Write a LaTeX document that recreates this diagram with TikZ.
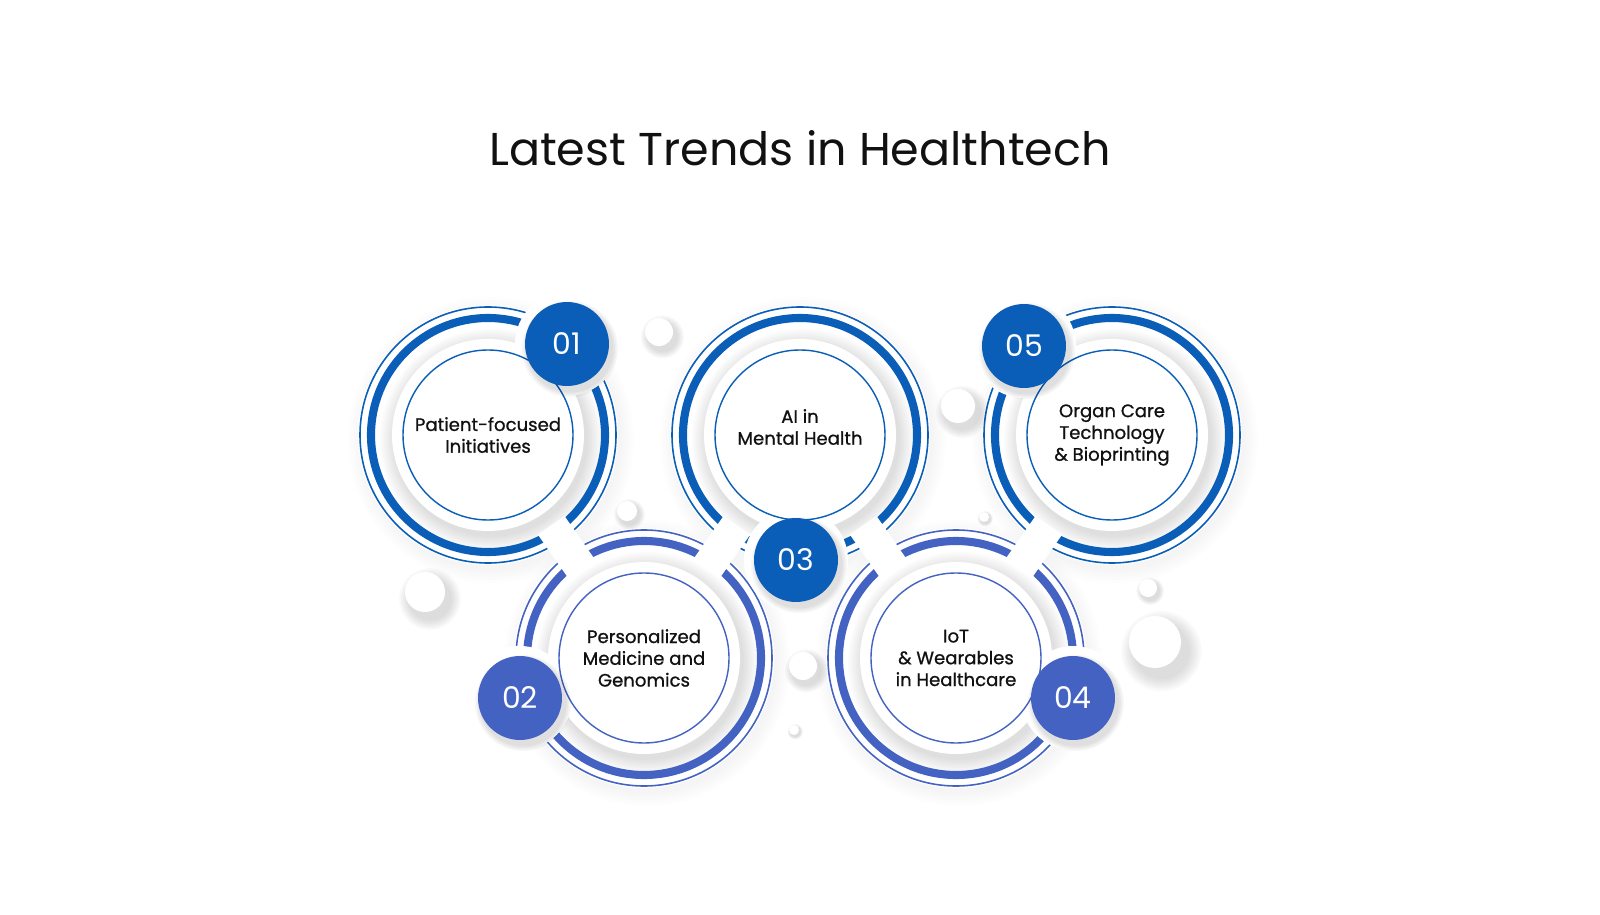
\documentclass[tikz,border=0pt]{standalone}
\usepackage{fontspec}
\setmainfont{Poppins}
\newfontfamily\labelfont[FakeBold=0.9]{Poppins}
\usepackage{xcolor}
\definecolor{topblue}{HTML}{0A5EB7}
\definecolor{lowblue}{HTML}{4462C2}
\definecolor{ink}{HTML}{111111}
\usetikzlibrary{calc}

\begin{document}
\begin{tikzpicture}[x=0.02cm, y=0.02cm,
	ringthin/.style={line width=0.9pt},
	ringthick/.style={line width=4.6pt},
	trendlabel/.style={font=\labelfont\fontsize{10.3}{12.4}\selectfont, text=ink, align=center},
	badgenum/.style={circle, inner sep=0pt, minimum size=47.8pt, text=white, font=\fontsize{17}{17}\selectfont}
	]

	\useasboundingbox (0,0) rectangle (1600,914);

	% ================= centres =================
	\coordinate (C1) at (488,479);
	\coordinate (C3) at (800,479);
	\coordinate (C5) at (1112,479);
	\coordinate (C2) at (644,256);
	\coordinate (C4) at (956,256);

	\node[ink, anchor=base, font=\fontsize{26.2}{30}\selectfont] (title) at (800,748) {Latest Trends in Healthtech};

	% ================= ring groups: soft shadow =================
	\foreach \c in {C1,C2,C3,C4,C5}{
		\foreach \r in {131,134,...,143}{
			\fill[black, opacity=0.008] ($(\c)+(3,-5)$) circle[radius=\r];
		}
	}
	\foreach \c in {C1,C2,C3,C4,C5}{
		\fill[white] (\c) circle[radius=130];
	}

	% plate shadow
	\foreach \c in {C1,C2,C3,C4,C5}{
		\foreach \r in {97,99,...,111}{
			\fill[black, opacity=0.015] ($(\c)+(3,-5)$) circle[radius=\r];
		}
	}

	% ================= rings =================
	\foreach \c/\col in {C1/topblue, C3/topblue, C5/topblue, C2/lowblue, C4/lowblue}{
		\draw[ringthin, \col] (\c) circle[radius=128];
		\draw[ringthick, \col] (\c) circle[radius=117];
	}

	% gaps between neighbours
	\foreach \a/\b in {C1/C2, C2/C3, C3/C4, C4/C5}{
		\draw[white, line width=18.5pt] ($(\a)!0.405!(\b)$) -- ($(\a)!0.595!(\b)$);
	}

	% halos round the badges
	\foreach \x/\y in {567/570, 520/216, 796/354, 1073/216, 1024/568}{
		\fill[white] (\x,\y) circle[radius=52];
	}

	% ================= plates and labels =================
	\foreach \c/\col in {C1/topblue, C3/topblue, C5/topblue, C2/lowblue, C4/lowblue}{
		\fill[white] (\c) circle[radius=96];
		\draw[\col, line width=0.8pt] (\c) circle[radius=85];
	}

	\node[trendlabel] (t1) at (C1) {Patient-focused\\Initiatives};
	\node[trendlabel] (t2) at (C2) {Personalized\\Medicine and\\Genomics};
	\node[trendlabel] (t3) at ($(C3)+(0,8)$) {AI in\\Mental Health};
	\node[trendlabel] (t4) at (C4) {IoT\\\& Wearables\\in Healthcare};
	\node[trendlabel] (t5) at (C5) {Organ Care\\Technology\\\& Bioprinting};

	% ================= small white balls =================
	\foreach \x/\y/\r in {
		659/582/14,
		958/508/17,
		627/403/10,
		425/322/20,
		803/248/14,
		794/184/5,
		1155/272/26,
		1148/326/9,
		984/397/5
	}{
		\foreach \k in {1,...,6}{
			\fill[black, opacity=0.025] (\x+0.25*\r,\y-0.35*\r) circle[radius=\r+0.09*\k*\r];
		}
		\fill[white] (\x,\y) circle[radius=\r];
	}

	% ================= badges =================
	\foreach \n/\x/\y/\col in {01/567/570/topblue, 02/520/216/lowblue, 03/796/354/topblue, 04/1073/216/lowblue, 05/1024/568/topblue}{
		\foreach \k in {1,...,4}{
			\fill[black, opacity=0.03] (\x+3,\y-5) circle[radius=42+1.5*\k];
		}
		\node[badgenum, fill=\col] (b\n) at (\x,\y) {\n};
	}

\end{tikzpicture}
\end{document}
